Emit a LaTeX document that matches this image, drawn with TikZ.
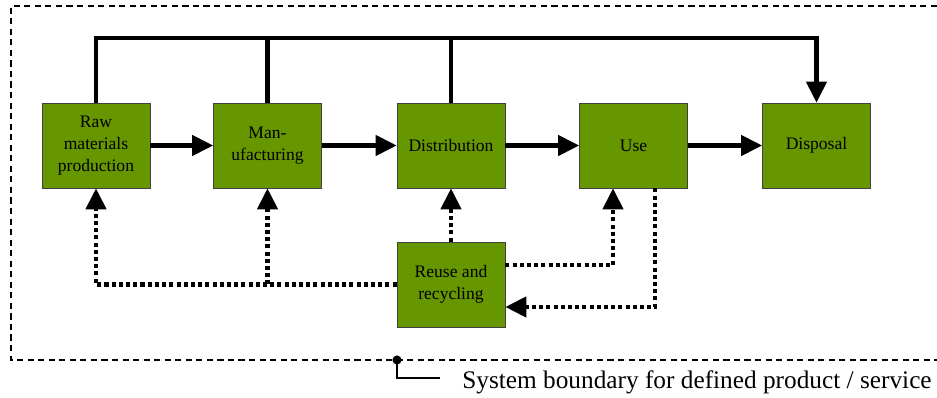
\documentclass[tikz,border=0pt]{standalone}
\usepackage{fontspec}
\setmainfont{Liberation Serif}
\usepackage{tikz}
\usetikzlibrary{arrows.meta}
\definecolor{stagegreen}{RGB}{102,150,0}

\begin{document}
\begin{tikzpicture}[x=0.02cm, y=-0.02cm,
  stage/.style={draw=black!75, fill=stagegreen, minimum width=2.16cm,
    minimum height=1.7cm, align=center, inner sep=1pt,
    font=\fontsize{10}{12.5}\selectfont},
  flow/.style={line width=2.3pt, -{Triangle[length=12pt,width=11.5pt]}},
  back/.style={line width=2.3pt, dash pattern=on 2.3pt off 1.8pt,
    -{Triangle[length=12pt,width=11.5pt]}}]
  \useasboundingbox (0,0) rectangle (937,398);

  % system boundary
  \draw[line width=0.8pt, dash pattern=on 3.5pt off 2.5pt]
    (937,6) -- (11,6) -- (11,360) -- (937,360);

  % life cycle stages
  \node[stage] (raw)   at (96,145.5)  {Raw\\materials\\production};
  \node[stage] (manuf) at (267.5,145.5) {Man-\\ufacturing};
  \node[stage] (distr) at (451,145.5) {Distribution};
  \node[stage] (use)   at (633.5,145.5) {Use};
  \node[stage] (disp)  at (816.5,145.5) {Disposal};
  \node[stage] (reuse) at (451,284.5) {Reuse and\\recycling};

  \foreach \a/\b in {raw/manuf, manuf/distr, distr/use, use/disp}
    \draw[flow] (\a) -- (\b);

  % direct disposal bus
  \coordinate (bus) at (96,38);
  \draw[flow] (raw.north) -- (bus) -| (disp.north);
  \draw[line width=2.3pt] (manuf.north) -- (manuf.north |- bus);
  \draw[line width=2.3pt] (distr.north) -- (distr.north |- bus);

  % reuse loops
  \draw[back] (reuse.west) -| (raw.south);
  \draw[back] (manuf.south |- reuse.west) -- (manuf.south);
  \draw[back] (reuse.north) -- (distr.south);
  \draw[back] ([yshift=0.39cm]reuse.east) -| ([xshift=-0.41cm]use.south);
  \draw[back] ([xshift=0.43cm]use.south) |- ([yshift=-0.45cm]reuse.east);

  % legend
  \coordinate (tag) at (397,360);
  \fill (tag) circle (2.6pt);
  \node[anchor=west, inner sep=0pt, font=\fontsize{14.4}{17}\selectfont]
    (note) at (462,382) {System boundary for defined product / service};
  \draw[line width=0.8pt] (tag) |- ([xshift=-0.44cm,yshift=0.08cm]note.west);
\end{tikzpicture}
\end{document}
